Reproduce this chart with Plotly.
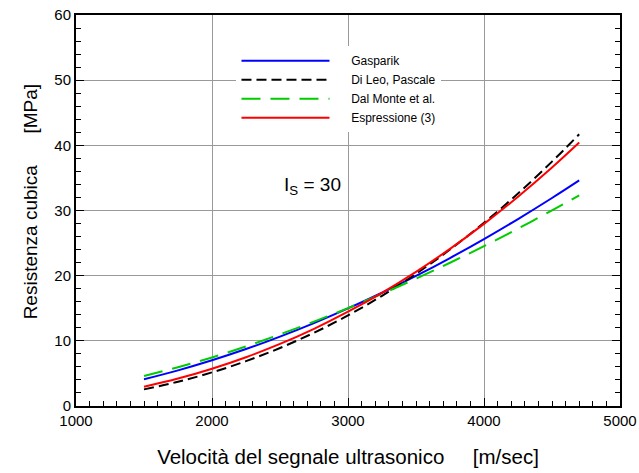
import plotly.graph_objects as go

velocity = [1500, 1750, 2000, 2250, 2500, 2750, 3000, 3250, 3500, 3750, 4000, 4250, 4500, 4700]
gasparik = [4.10, 5.47, 7.02, 8.74, 10.65, 12.72, 14.97, 17.38, 19.96, 22.71, 25.62, 28.69, 31.92, 34.62]
dileo = [2.55, 3.72, 5.16, 6.88, 8.90, 11.24, 13.90, 16.91, 20.28, 24.01, 28.11, 32.60, 37.50, 41.70]
dalmonte = [4.60, 5.95, 7.45, 9.15, 11.00, 12.95, 15.02, 17.22, 19.54, 21.98, 24.54, 27.22, 30.01, 32.31]
espressione = [2.96, 4.21, 5.72, 7.49, 9.53, 11.85, 14.47, 17.37, 20.59, 24.11, 27.95, 32.11, 36.59, 40.42]

names = ["Gasparik", "Di Leo, Pascale", "Dal Monte et al.", "Espressione (3)"]
series = [gasparik, dileo, dalmonte, espressione]
colors = ["#0000FF", "#000000", "#00CC00", "#FF0000"]
dashes = ["solid", "10px,5px", "19px,10px", "solid"]

NB = "\u00a0"
fig = go.Figure()
for n, s, c, d in zip(names, series, colors, dashes):
    fig.add_trace(go.Scatter(x=velocity, y=s, mode="lines", name=NB * 5 + n,
                             line=dict(color=c, width=2, dash=d, shape="spline")))

fig.add_annotation(x=2515, y=33.8, xref="x", yref="y", text="I<sub>S</sub> = 30",
                   showarrow=False, xanchor="left", yanchor="middle",
                   font=dict(size=19, color="black"))

# y-axis title placed as a rotated annotation
fig.add_annotation(x=-0.083, y=0.523, xref="paper", yref="paper",
                   text="Resistenza cubica" + NB * 6 + "[MPa]", textangle=-90,
                   showarrow=False, xanchor="center", yanchor="middle",
                   font=dict(size=19, color="black"))

fig.update_layout(
    width=639, height=473,
    margin=dict(l=76, r=19, t=15, b=67),
    paper_bgcolor="white", plot_bgcolor="white",
    font=dict(family="Liberation Sans, Arial, sans-serif", color="black", size=15),
    showlegend=True,
    legend=dict(x=0.295, y=0.92, xanchor="left", yanchor="top",
                bgcolor="white", borderwidth=0, font=dict(size=12),
                itemwidth=88, tracegroupgap=0),
)
fig.update_xaxes(range=[1000, 5000], dtick=1000, tick0=1000, automargin=False,
                 showgrid=True, gridcolor="#999999", gridwidth=1,
                 showline=True, linecolor="black", linewidth=2, mirror=True,
                 ticks="inside", ticklen=8, tickcolor="black", tickwidth=1,
                 minor=dict(dtick=100, ticks="inside", ticklen=5, tickcolor="black", showgrid=False),
                 zeroline=False,
                 title=dict(text="Velocità del segnale ultrasonico" + NB * 5 + "[m/sec]",
                            font=dict(size=20.5), standoff=22))
fig.update_yaxes(range=[0, 60], dtick=10, automargin=False,
                 showgrid=True, gridcolor="#999999", gridwidth=1,
                 showline=True, linecolor="black", linewidth=2, mirror="ticks",
                 ticks="inside", ticklen=8, tickcolor="black", tickwidth=1,
                 minor=dict(dtick=2, ticks="inside", ticklen=5, tickcolor="black", showgrid=False),
                 zeroline=False)

fig.write_html("out.html")
